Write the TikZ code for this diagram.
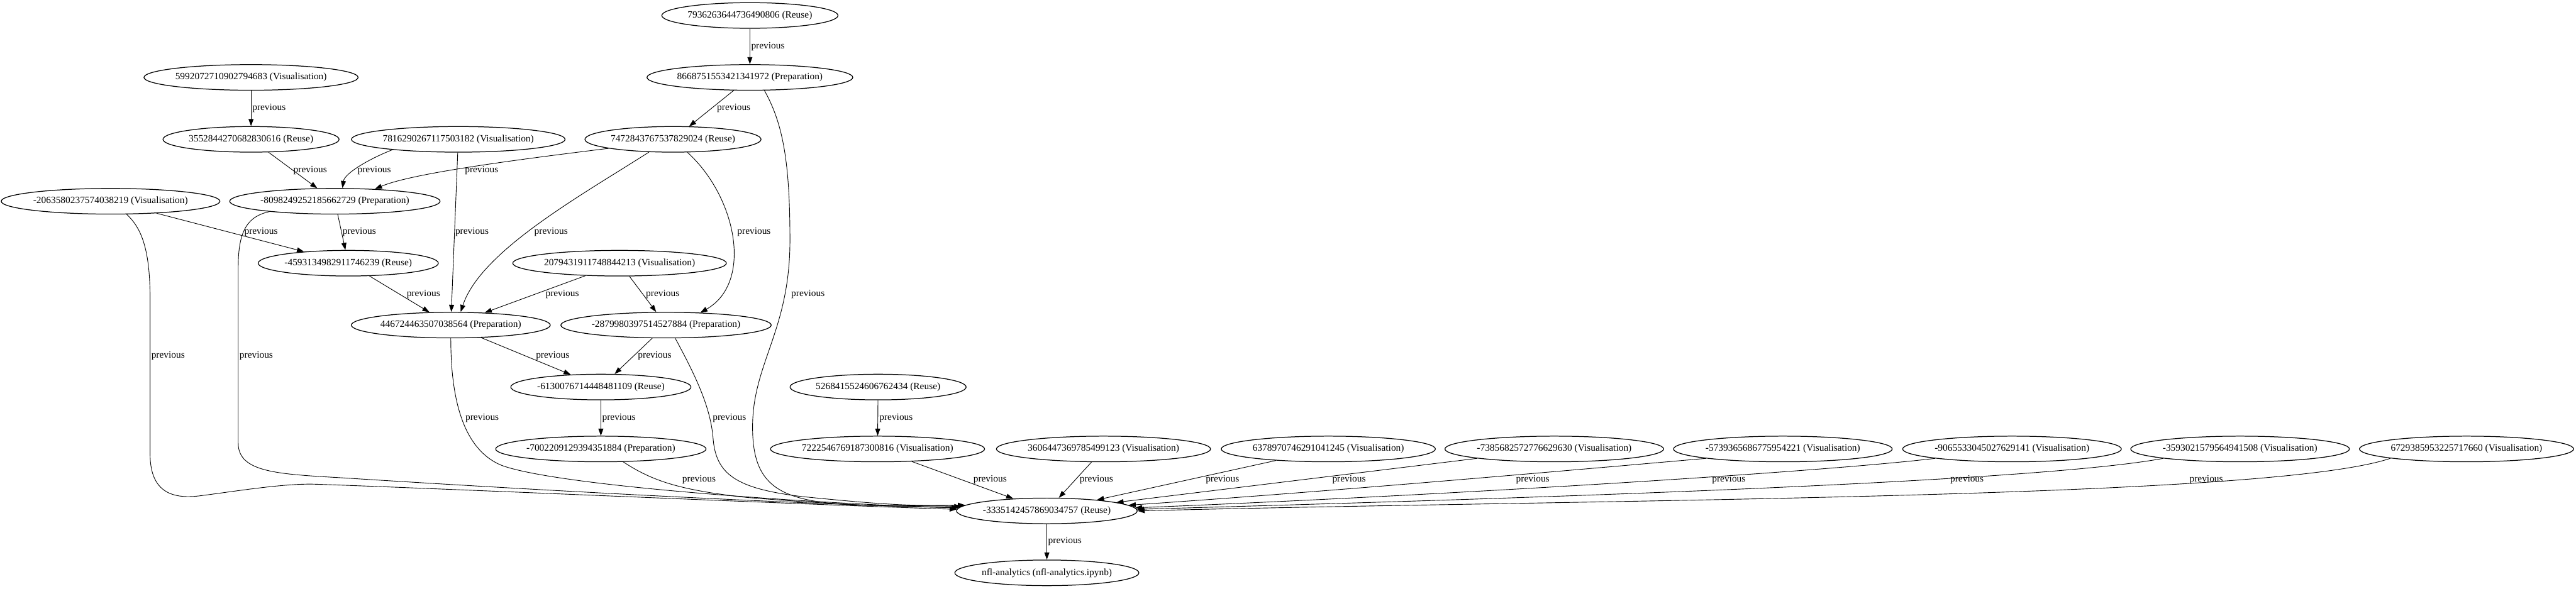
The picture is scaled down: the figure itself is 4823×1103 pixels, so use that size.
\documentclass[tikz,border=0pt]{standalone}
\usepackage{fontspec}
\setmainfont{Liberation Serif}
\usetikzlibrary{shapes.geometric,arrows.meta}
\begin{document}
\begin{tikzpicture}[x=0.75pt,y=-0.75pt,
  nd/.style={ellipse,draw,line width=1.1pt,minimum height=36pt,inner xsep=0pt,inner ysep=0pt,font=\fontsize{13.6pt}{16pt}\selectfont},
  ed/.style={line width=0.8pt,-{Triangle[length=10pt,width=7pt]}},
  lb/.style={anchor=west,inner sep=0pt,font=\fontsize{13.6pt}{16pt}\selectfont}]
\useasboundingbox (0,0) rectangle (4823,1103);
% nodes
\node[nd] (n7936) at (1404,29) {7936263644736490806 (Reuse)};
\node[nd] (n8668) at (1404,145) {8668751553421341972 (Preparation)};
\node[nd] (n5992) at (470,145) {5992072710902794683 (Visualisation)};
\node[nd] (n3552) at (470,261) {3552844270682830616 (Reuse)};
\node[nd] (n7816) at (858,261) {7816290267117503182 (Visualisation)};
\node[nd] (n7472) at (1260,261) {7472843767537829024 (Reuse)};
\node[nd] (n2063) at (207,377) {-2063580237574038219 (Visualisation)};
\node[nd] (n8098) at (627,377) {-8098249252185662729 (Preparation)};
\node[nd] (n4593) at (652,493) {-4593134982911746239 (Reuse)};
\node[nd] (n2079) at (1160,493) {2079431911748844213 (Visualisation)};
\node[nd] (n4467) at (844,609) {446724463507038564 (Preparation)};
\node[nd] (n2879) at (1247,609) {-2879980397514527884 (Preparation)};
\node[nd] (n6130) at (1125,725) {-6130076714448481109 (Reuse)};
\node[nd] (n5268) at (1644,725) {5268415524606762434 (Reuse)};
\node[nd] (n7002) at (1125,841) {-7002209129394351884 (Preparation)};
\node[nd] (n7222) at (1643,841) {7222546769187300816 (Visualisation)};
\node[nd] (n3606) at (2066,841) {3606447369785499123 (Visualisation)};
\node[nd] (n6378) at (2487,841) {6378970746291041245 (Visualisation)};
\node[nd] (n7385) at (2910,841) {-7385682572776629630 (Visualisation)};
\node[nd] (n5739) at (3338,841) {-5739365686775954221 (Visualisation)};
\node[nd] (n9065) at (3767,841) {-9065533045027629141 (Visualisation)};
\node[nd] (n3593) at (4194,841) {-3593021579564941508 (Visualisation)};
\node[nd] (n6729) at (4618,841) {6729385953225717660 (Visualisation)};
\node[nd] (n3335) at (1960,957) {-3335142457869034757 (Reuse)};
\node[nd] (nfl) at (1960,1073) {nfl-analytics (nfl-analytics.ipynb)};
% edges
\draw[ed] (n7936) -- (n8668) node[lb] (l1) at (1406,87) {previous};
\draw[ed] (n8668) -- (n7472) node[lb] (l2) at (1342,203) {previous};
\draw[ed] (n8668.-42) .. controls (1465,230) and (1479,300) .. (1479,450) .. controls (1479,620) and (1409,680) .. (1409,800) .. controls (1409,950) and (1500,950) .. (n3335.176) node[lb] (l3) at (1481,551) {previous};
\draw[ed] (n7472.-172) .. controls (960,300) and (770,325) .. (n8098.17) node[lb] (l4) at (870,319) {previous};
\draw[ed] (n7472.-152) .. controls (1090,365) and (900,470) .. (n4467.53) node[lb] (l5) at (1000,434) {previous};
\draw[ed] (n7472.-42) .. controls (1380,370) and (1410,530) .. (n2879.20) node[lb] (l6) at (1380,434) {previous};
\draw[ed] (n5992) -- (n3552) node[lb] (l7) at (472,203) {previous};
\draw[ed] (n3552) -- (n8098) node[lb] (l8) at (549,319) {previous};
\draw[ed] (n7816.-171) .. controls (690,298) and (645,325) .. (n8098.60) node[lb] (l9) at (669,319) {previous};
\draw[ed] (n7816) -- (n4467) node[lb] (l10) at (852,434) {previous};
\draw[ed] (n2063) -- (n4593) node[lb] (l11) at (457,434) {previous};
\draw[ed] (n2063.-39) .. controls (262,425) and (281,460) .. (281,560) -- (281,850) .. controls (281,920) and (320,935) .. (372,929) .. controls (430,922) and (530,905) .. (590,907) .. controls (800,914) and (1500,945) .. (n3335.179.5) node[lb] (l12) at (283,667) {previous};
\draw[ed] (n8098.-171) .. controls (465,405) and (446,430) .. (446,500) -- (446,830) .. controls (446,885) and (520,888) .. (640,895) .. controls (1000,918) and (1500,945) .. (n3335.178.8) node[lb] (l13) at (448,667) {previous};
\draw[ed] (n8098) -- (n4593) node[lb] (l14) at (641,434) {previous};
\draw[ed] (n4593) -- (n4467) node[lb] (l15) at (761,551) {previous};
\draw[ed] (n2079) -- (n4467) node[lb] (l16) at (1021,551) {previous};
\draw[ed] (n2079) -- (n2879) node[lb] (l17) at (1209,551) {previous};
\draw[ed] (n4467) -- (n6130) node[lb] (l18) at (1003,667) {previous};
\draw[ed] (n2879) -- (n6130) node[lb] (l19) at (1194,667) {previous};
\draw[ed] (n4467.-90) .. controls (844,730) and (860,840) .. (940,872) .. controls (1050,912) and (1550,945) .. (n3335.178.2) node[lb] (l20) at (871,783) {previous};
\draw[ed] (n2879.-55) .. controls (1300,700) and (1330,760) .. (1335,820) .. controls (1340,890) and (1380,915) .. (1500,930) .. controls (1650,945) and (1700,948) .. (n3335.176.8) node[lb] (l21) at (1334,783) {previous};
\draw[ed] (n6130) -- (n7002) node[lb] (l22) at (1127,783) {previous};
\draw[ed] (n7002.-30) .. controls (1220,900) and (1270,918) .. (1400,932) .. controls (1600,948) and (1700,950) .. (n3335.177.5) node[lb] (l23) at (1277,899) {previous};
\draw[ed] (n5268) -- (n7222) node[lb] (l24) at (1646,783) {previous};
\draw[ed] (n7222) -- (n3335) node[lb] (l25) at (1822,899) {previous};
\draw[ed] (n3606) -- (n3335) node[lb] (l26) at (2021,899) {previous};
\draw[ed] (n6378) -- (n3335) node[lb] (l27) at (2257,899) {previous};
\draw[ed] (n7385) -- (n3335) node[lb] (l28) at (2494,899) {previous};
\draw[ed] (n5739.-173) .. controls (2950,880) and (2500,920) .. (n3335.4) node[lb] (l29) at (2838,899) {previous};
\draw[ed] (n9065.-173) .. controls (3400,885) and (2700,928) .. (n3335.2.5) node[lb] (l30) at (3205,899) {previous};
\draw[ed] (n3593.-173) .. controls (3800,905) and (2800,935) .. (n3335.1.5) node[lb] (l31) at (3651,899) {previous};
\draw[ed] (n6729.-173) .. controls (4250,935) and (3000,935) .. (n3335.0.5) node[lb] (l32) at (4099,899) {previous};
\draw[ed] (n3335) -- (nfl) node[lb] (l33) at (1962,1014) {previous};
\end{tikzpicture}
\end{document}
